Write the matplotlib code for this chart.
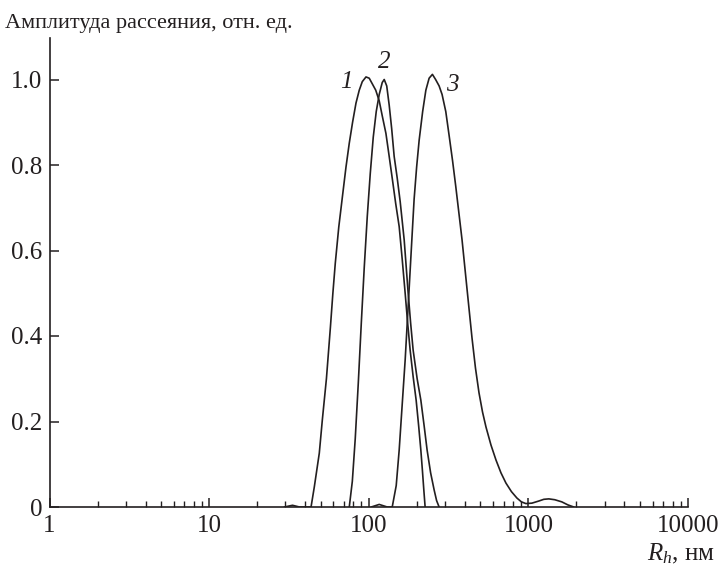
import matplotlib
matplotlib.use('Agg')
import matplotlib.pyplot as plt
from matplotlib.ticker import LogLocator, FixedLocator, FixedFormatter, NullFormatter

# Hydrodynamic radius (nm) and normalised scattering amplitude for three samples
r1 = [29.6, 33.3, 36.8, 43.5, 45.6, 49.0, 51.2, 54.3, 57.5, 59.6, 61.7, 64.9, 68.6,
      72.0, 75.5, 79.2, 83.2, 87.2, 91.1, 96.1, 100.7, 105.2, 110.6, 116.3, 121.5,
      128.1, 134.3, 140.8, 147.5, 155.1, 162.0, 169.1, 175.3, 181.7, 189.7, 198.1,
      205.4, 212.0, 216.9, 221.3, 225.5]
a1 = [0.0, 0.004, 0.0, 0.0, 0.047, 0.126, 0.204, 0.30, 0.42, 0.50, 0.57, 0.655, 0.73,
      0.795, 0.851, 0.90, 0.945, 0.975, 0.995, 1.006, 1.003, 0.99, 0.975, 0.95, 0.915,
      0.874, 0.82, 0.765, 0.71, 0.656, 0.58, 0.50, 0.43, 0.367, 0.305, 0.25,
      0.19, 0.133, 0.085, 0.04, 0.0]

r2 = [75.5, 78.9, 82.3, 86.0, 89.8, 93.7, 97.9, 102.2, 106.7, 111.4, 116.3, 121.5,
      125.0, 129.6, 134.3, 139.2, 144.3, 150.7, 157.3, 166.7, 176.6, 183.0, 189.7,
      201.0, 212.0, 222.3, 232.1, 244.1, 256.8, 266.1, 275.9]
a2 = [0.0, 0.06, 0.16, 0.29, 0.43, 0.56, 0.68, 0.78, 0.865, 0.925, 0.965, 0.993,
      1.0, 0.985, 0.94, 0.885, 0.82, 0.77, 0.715, 0.625, 0.50, 0.43, 0.367,
      0.30, 0.25, 0.19, 0.133, 0.08, 0.04, 0.015, 0.0]

r3 = [103.7, 116.3, 130.5, 140.3, 148.6, 155.1, 162.7, 169.1, 176.6, 186.2, 192.4,
      199.5, 206.9, 217.6, 227.9, 238.9, 250.5, 262.3, 275.9, 288.0, 303.8, 318.5,
      335.0, 350.8, 367.8, 384.1, 412.7, 443.6, 466.2, 490.6, 516.2, 542.6, 583.0,
      626.6, 673.2, 723.5, 783.1, 847.5, 904.3, 964.7, 1052, 1163, 1250, 1343, 1464,
      1620, 1766, 1925]
a3 = [0.0, 0.006, 0.0, 0.0, 0.05, 0.133, 0.25, 0.344, 0.47, 0.625, 0.72,
      0.795, 0.858, 0.925, 0.975, 1.003, 1.012, 1.0, 0.985, 0.965, 0.925, 0.87,
      0.81, 0.75, 0.685, 0.625, 0.51, 0.395, 0.325, 0.267, 0.222, 0.187, 0.145,
      0.11, 0.08, 0.056, 0.036, 0.021, 0.012, 0.008, 0.009, 0.014, 0.018, 0.019,
      0.017, 0.012, 0.005, 0.0]

curve_labels = ['1', '2', '3']
label_pos = [(72.3, 0.994), (125.0, 1.041), (332.5, 0.987)]

x_ticks = [1, 10, 100, 1000, 10000]
x_ticklabels = ['1', '10', '100', '1000', '10000']
y_ticks = [0, 0.2, 0.4, 0.6, 0.8, 1.0]
y_ticklabels = ['0', '0.2', '0.4', '0.6', '0.8', '1.0']

plt.rcParams['font.family'] = ['Liberation Serif', 'DejaVu Serif']
plt.rcParams['mathtext.fontset'] = 'custom'
plt.rcParams['mathtext.rm'] = 'Liberation Serif'
plt.rcParams['mathtext.it'] = 'Liberation Serif:italic'

ink = '#231f20'
fs = 18

fig = plt.figure(figsize=(7.22, 5.66), dpi=100)
ax = fig.add_axes([49.5 / 722, 1 - 507 / 566, (688 - 49.5) / 722, (507 - 38) / 566])

for r, a in [(r1, a1), (r2, a2), (r3, a3)]:
    ax.plot(r, a, color=ink, lw=1.2, solid_capstyle='round', solid_joinstyle='round')

for lab, (x, y) in zip(curve_labels, label_pos):
    ax.text(x, y, lab, fontsize=fs, style='italic', color=ink, ha='center', va='center')

ax.set_xscale('log')
ax.set_xlim(1, 10000)
ax.set_ylim(0, (507 - 38) / 427.5)

ax.xaxis.set_major_locator(FixedLocator(x_ticks))
ax.xaxis.set_major_formatter(FixedFormatter(x_ticklabels))
ax.xaxis.set_minor_locator(LogLocator(base=10, subs=range(2, 10), numticks=20))
ax.xaxis.set_minor_formatter(NullFormatter())
ax.set_yticks(y_ticks)
ax.set_yticklabels(y_ticklabels)

for side in ['top', 'right']:
    ax.spines[side].set_visible(False)
for side in ['left', 'bottom']:
    ax.spines[side].set_linewidth(1.2)
    ax.spines[side].set_color(ink)

ax.tick_params(axis='both', which='major', direction='in', length=6.2, width=1.1,
               colors=ink, labelsize=fs)
ax.tick_params(axis='x', which='minor', direction='in', length=4.3, width=1.0, colors=ink)
ax.tick_params(axis='x', which='major', pad=6)
ax.tick_params(axis='y', which='major', pad=5)

fig.text(5 / 722, 1 - 28 / 566, 'Амплитуда рассеяния, отн. ед.', fontsize=16,
         color=ink, ha='left', va='baseline')
fig.text(715 / 722, 1 - 560 / 566, r'$R_h$, нм', fontsize=fs, color=ink,
         ha='right', va='baseline')

fig.savefig('out.png', dpi=100)
